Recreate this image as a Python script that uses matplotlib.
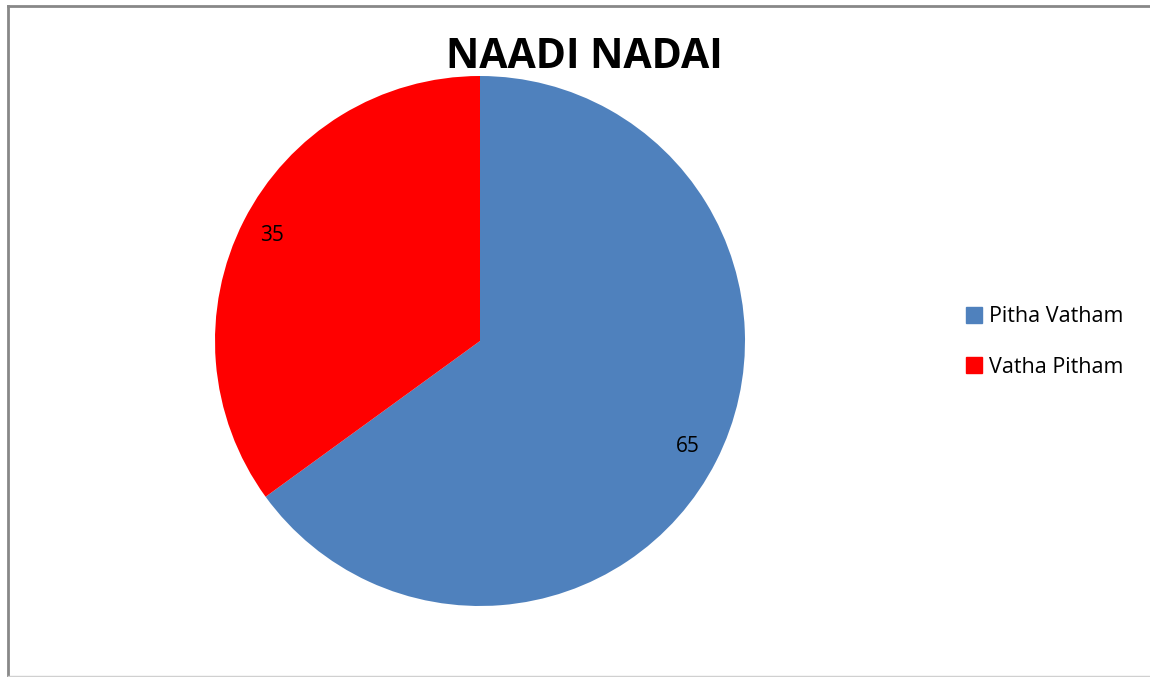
import matplotlib
matplotlib.use("Agg")
import matplotlib.pyplot as plt
from matplotlib.lines import Line2D

# Data
labels = ["Pitha Vatham", "Vatha Pitham"]
values = [65, 35]
colors = ["#4F81BD", "#FF0000"]

plt.rcParams['font.family'] = ['Open Sans', 'DejaVu Sans']

W, H = 1150, 677
fig = plt.figure(figsize=(W / 100, H / 100), dpi=100)

# pie axes: center (480, 341) px from top, radius 265 px
cx, cy, r = 480, H - 341, 265
ax = fig.add_axes([(cx - r) / W, (cy - r) / H, 2 * r / W, 2 * r / H])
wedges, texts, autotexts = ax.pie(
    values, colors=colors, startangle=90, counterclock=False,
    autopct=lambda p: f"{p * sum(values) / 100:.0f}", pctdistance=0.88,
    textprops={'fontsize': 15, 'color': 'black'}, radius=1.0)
ax.set_xlim(-1, 1)
ax.set_ylim(-1, 1)
ax.set_aspect('equal')
ax.axis('off')

fig.text(584 / W, 1 - 57 / H, "NAADI NADAI", ha='center', va='center',
         fontsize=29.5, fontweight='bold')

# legend
handles = [Line2D([0], [0], marker='s', linestyle='none', markersize=11,
                  markerfacecolor=c, markeredgecolor=c) for c in colors]
fig.legend(handles, labels, loc='center left', bbox_to_anchor=(944 / W, 1 - 342 / H),
           frameon=False, fontsize=15.5, handletextpad=0.2, labelspacing=1.35,
           handlelength=1.0)

# outer border lines
fig.add_artist(Line2D([7.5 / W, 7.5 / W], [0, 1 - 5.5 / H], color='#888888', lw=2))
fig.add_artist(Line2D([7.5 / W, 1], [1 - 5.5 / H, 1 - 5.5 / H], color='#888888', lw=2))
fig.add_artist(Line2D([7.5 / W, 1], [1.5 / H, 1.5 / H], color='#d0d0d0', lw=1))

fig.savefig("out.png", dpi=100)
